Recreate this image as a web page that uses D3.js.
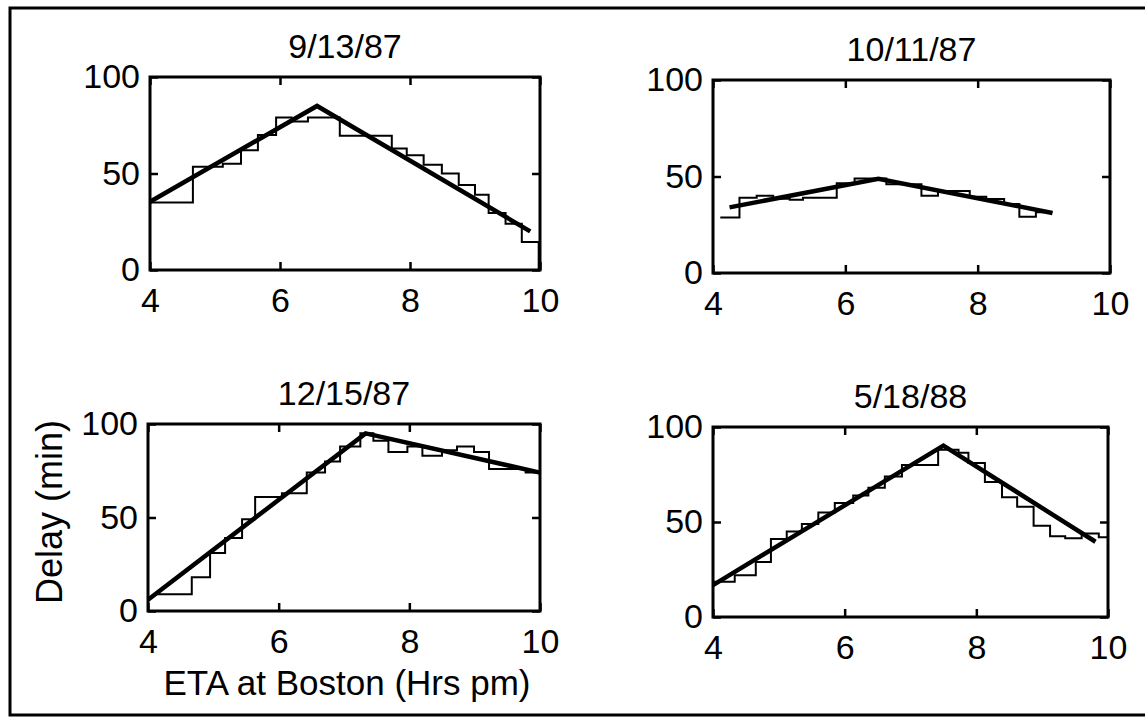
<!DOCTYPE html>
<html>
<head>
<meta charset="utf-8">
<script src="https://cdn.jsdelivr.net/npm/d3@7"></script>
<style>
  body { margin: 0; background: #fff; }
  svg { display: block; }
  text { font-family: "Liberation Sans", Arial, sans-serif; fill: #000; }
</style>
</head>
<body>
<div id="chart"></div>
<script>
var width = 1145, height = 721;

// tick labels
const xTicks = [4, 6, 8, 10];
const yTicks = [0, 50, 100];
const titles = ['9/13/87', '10/11/87', '12/15/87', '5/18/88'];

// 9/13/87 : stair (observed) and two-segment fit
const stepX1 = [4.0, 4.66, 5.12, 5.40, 5.66, 5.94, 6.18, 6.43, 6.92, 7.72, 7.95, 8.21, 8.49, 8.75, 9.0, 9.21, 9.47, 9.72, 9.98];
const stepY1 = [35, 53.5, 55, 62, 70, 79, 77, 79, 69.5, 63, 59.5, 54.5, 50, 44, 39, 29.5, 24, 14.5, 0];
const fitX1 = [4.0, 6.57, 9.85];
const fitY1 = [35.4, 85, 20];

// 10/11/87
const stepX2 = [4.11, 4.40, 4.66, 4.91, 5.16, 5.36, 5.87, 6.14, 6.62, 7.15, 7.40, 7.88, 8.13, 8.40, 8.63, 8.88, 9.13];
const stepY2 = [28.8, 39, 40, 38.5, 38, 39, 46.5, 49, 46, 40, 42.5, 39.5, 38.4, 35.8, 29.2, 31.5, 31.5];
const fitX2 = [4.25, 6.50, 9.13];
const fitY2 = [34, 48.8, 31.1];

// 12/15/87
const stepX3 = [4.10, 4.67, 4.95, 5.18, 5.44, 5.64, 6.05, 6.43, 6.71, 6.94, 7.25, 7.45, 7.68, 7.97, 8.20, 8.50, 8.73, 8.99, 9.22, 9.50, 9.78, 10.0];
const stepY3 = [9, 18, 31, 39, 49, 61, 63, 74, 80, 88, 95, 91, 85, 88, 83, 86, 88, 85, 76, 76, 74, 71];
const fitX3 = [4.0, 7.33, 10.0];
const fitY3 = [6, 95, 74];

// 5/18/88
const stepX4 = [4.0, 4.33, 4.65, 4.88, 5.12, 5.35, 5.60, 5.85, 6.13, 6.36, 6.61, 6.87, 7.42, 7.73, 7.88, 8.13, 8.39, 8.62, 8.87, 9.12, 9.35, 9.60, 9.86, 10.0];
const stepY4 = [18.6, 22, 29, 41, 45, 49, 55, 60, 64, 68, 74, 80, 88, 86.5, 81, 71, 63, 58, 48, 42.5, 41.5, 44, 42, 42];
const fitX4 = [4.0, 7.50, 9.81];
const fitY4 = [16.8, 90.2, 39.6];

const stepsX = [stepX1, stepX2, stepX3, stepX4];
const stepsY = [stepY1, stepY2, stepY3, stepY4];
const fitsX = [fitX1, fitX2, fitX3, fitX4];
const fitsY = [fitY1, fitY2, fitY3, fitY4];

// panel boxes on the page
let boxes = [
  {l: 150, r: 540, t: 77, b: 270},
  {l: 713, r: 1110, t: 80, b: 273},
  {l: 148, r: 540, t: 424, b: 611},
  {l: 713, r: 1108, t: 427, b: 617}
];

let svg = d3.select('#chart')
  .append('svg')
  .attr('width', width)
  .attr('height', height)

// outer frame
svg.append('rect')
  .attr('x', 10).attr('y', 8)
  .attr('width', 1150).attr('height', 707)
  .attr('fill', 'none')
  .attr('stroke', '#000')
  .attr('stroke-width', 3)

let styleAxis = (g) => {
  g.select('.domain').remove();
  g.selectAll('.tick line').attr('stroke', '#000').attr('stroke-width', 2.5);
  g.selectAll('.tick text').attr('font-size', 34).attr('fill', '#000')
    .style('font-family', '"Liberation Sans", Arial, sans-serif');
}

boxes.forEach((p, i) => {
  let x = d3.scaleLinear().domain([4, 10]).range([p.l, p.r]);
  let y = d3.scaleLinear().domain([0, 100]).range([p.b, p.t]);
  let g = svg.append('g');

  let steps = stepsX[i].map((v, j) => [v, stepsY[i][j]]);
  let fit = fitsX[i].map((v, j) => [v, fitsY[i][j]]);

  g.append('path')
    .datum(steps)
    .attr('fill', 'none')
    .attr('stroke', '#000')
    .attr('stroke-width', 2)
    .attr('d', d3.line().x(d => x(d[0])).y(d => y(d[1])).curve(d3.curveStepAfter))

  g.append('path')
    .datum(fit)
    .attr('fill', 'none')
    .attr('stroke', '#000')
    .attr('stroke-width', 4.5)
    .attr('d', d3.line().x(d => x(d[0])).y(d => y(d[1])))

  g.append('g')
    .attr('transform', `translate(0,${p.b})`)
    .call(d3.axisBottom(x).tickValues(xTicks).tickFormat(d3.format('d')).tickSizeInner(-8).tickSizeOuter(0).tickPadding(18))
    .call(styleAxis)
  g.append('g')
    .attr('transform', `translate(${p.l},0)`)
    .call(d3.axisLeft(y).tickValues(yTicks).tickFormat(d3.format('d')).tickSizeInner(-8).tickSizeOuter(0).tickPadding(10))
    .call(styleAxis)
  g.append('g')
    .attr('transform', `translate(0,${p.t})`)
    .call(d3.axisTop(x).tickValues(xTicks).tickSizeInner(-8).tickSizeOuter(0).tickFormat(''))
    .call(styleAxis)
  g.append('g')
    .attr('transform', `translate(${p.r},0)`)
    .call(d3.axisRight(y).tickValues(yTicks).tickSizeInner(-8).tickSizeOuter(0).tickFormat(''))
    .call(styleAxis)

  g.append('rect')
    .attr('x', p.l).attr('y', p.t)
    .attr('width', p.r - p.l).attr('height', p.b - p.t)
    .attr('fill', 'none')
    .attr('stroke', '#000')
    .attr('stroke-width', 3)

  g.append('text')
    .attr('x', (p.l + p.r) / 2)
    .attr('y', p.t - 19)
    .attr('text-anchor', 'middle')
    .attr('font-size', 34)
    .text(titles[i])
})

svg.append('text')
  .attr('x', 347).attr('y', 695)
  .attr('text-anchor', 'middle')
  .attr('font-size', 35)
  .text('ETA at Boston (Hrs pm)')

svg.append('text')
  .attr('transform', 'translate(62,512) rotate(-90)')
  .attr('text-anchor', 'middle')
  .attr('font-size', 36)
  .text('Delay (min)')
</script>
</body>
</html>
